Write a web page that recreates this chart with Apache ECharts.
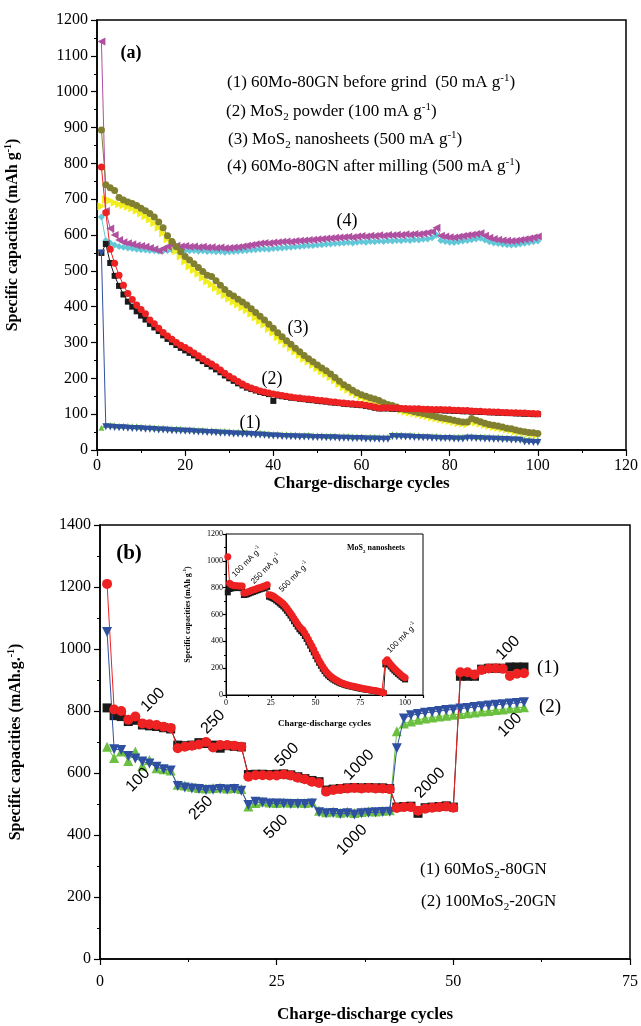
<!DOCTYPE html>
<html><head><meta charset="utf-8">
<script src="https://cdn.jsdelivr.net/npm/echarts@6/dist/echarts.min.js"></script>
<style>html,body{margin:0;padding:0;background:#fff}#c{width:641px;height:1026px}</style>
</head><body><div id="c"></div>
<script>
// ---------- Panel (a) data (cycles 1..100) ----------
const A_RED = [790,662,560,521,488,460,437,420,405,392, 380,363,352,340,328,318,309,300,292,286, 279,271,263,255,247,240,232,223,214,206, 199,191,184,178,173,169,165,162,159,156, 154,152,150,148,146,145,143,142,141,139, 138,137,135,134,132,131,130,129,128,127, 125,123,120,117,118,118,117,117,116,116, 115,115,115,114,114,113,113,113,112,112, 111,111,110,110,109,108,108,107,107,106, 106,105,105,104,104,103,103,102,102,101];
const A_BLACK = [550,575,522,486,458,434,414,400,387,375, 364,352,342,332,320,310,301,293,285,278, 271,264,256,248,240,233,225,217,208,200, 193,186,180,174,170,166,162,159,156,137, 152,150,148,146,145,143,142,140,139,137, 136,135,133,132,131,129,128,127,126,125, 123,121,118,116,116,116,115,115,114,114, 113,113,113,112,112,111,111,111,110,110, 109,109,108,108,107,107,106,106,105,105, 104,104,103,103,102,102,101,101,100,100];
const A_BLUE = [550,65,64,63,62,62,61,60,60,59, 58,58,57,56,56,55,54,54,53,52, 52,51,50,50,49,49,48,47,47,46, 45,45,44,44,43,42,42,41,40,39, 39,38,38,37,37,36,36,36,35,35, 35,34,34,34,33,33,33,32,32,32, 31,31,31,30,30,30,38,37,37,36, 36,35,35,34,34,33,33,32,32,32, 31,31,31,33,33,32,32,31,31,30, 30,29,29,28,28,27,22,22,21,21];
const A_GREEN = [62,70,70,69,68,68,67,66,66,65, 64,64,63,62,62,61,60,60,59,58, 58,57,56,56,55,55,54,53,53,52, 51,51,50,50,49,48,48,47,46,45, 45,44,44,43,43,42,42,42,41,41, 41,40,40,40,39,39,39,38,38,38, 37,37,37,36,36,36,44,43,43,42, 42,41,41,40,40,39,39,38,38,38, 37,37,37,39,39,38,38,37,37,36, 36,35,35,34,34,33,30,30,29,29];
const A_OLIVE = [893,740,732,724,705,698,692,688,682,675, 668,660,650,636,620,598,582,567,553,540, 530,520,509,498,488,484,472,460,448,437, 430,421,413,405,394,384,373,363,351,340, 327,316,305,295,284,274,264,255,246,237, 229,221,212,202,192,182,175,167,160,154, 150,146,142,138,132,127,124,120,116,112, 110,107,104,102,99,96,93,90,88,86, 83,80,78,78,88,83,79,75,71,69, 67,64,61,59,56,53,51,49,48,46];
const A_YELLOW = [680,700,696,690,686,683,679,675,668,660, 652,643,633,620,605,588,570,555,540,526, 512,502,492,481,470,462,452,442,432,422, 414,406,398,390,380,370,360,350,338,327, 315,305,295,285,275,265,255,246,237,228, 220,212,203,194,184,175,168,160,154,148, 144,140,136,132,127,122,118,115,111,107, 105,102,99,96,94,91,88,85,83,81, 78,75,73,72,80,77,73,70,67,64, 62,59,57,55,52,50,48,46,44,43];
const A_MAGENTA = [1140,667,618,600,586,580,577,574,571,569, 567,564,560,556,562,568,572,570,568,569, 567,568,566,567,565,566,564,565,563,564, 565,566,568,570,572,574,576,578,577,579, 580,581,582,581,583,584,585,586,587,588, 589,590,591,592,593,594,595,594,596,597, 596,598,597,599,598,600,599,601,600,602, 601,603,602,604,606,609,620,598,596,594, 593,595,597,599,601,603,605,598,592,589, 587,585,584,583,584,586,588,590,593,596];
const A_CYAN = [650,585,578,572,568,566,564,562,560,559, 558,557,556,555,556,557,558,557,556,557, 556,557,555,556,554,555,553,554,552,553, 554,555,556,557,558,559,560,561,560,562, 563,564,565,566,567,568,569,570,571,572, 573,574,575,576,577,578,579,578,580,581, 580,582,581,583,582,584,583,585,584,586, 585,587,586,588,589,592,600,585,582,580, 579,581,583,585,587,589,591,586,581,578, 576,574,573,572,573,575,577,579,581,583];

// ---------- Panel (b) data (cycles 1..60) ----------
const B_RED = [1210,805,800,772,782,760,757,755,749,745, 680,685,688,692,700,682,690,690,688,685, 588,593,593,592,592,595,592,585,580,572, 568,540,545,548,550,552,550,552,550,550, 548,487,490,490,478,485,488,490,492,488, 925,925,918,932,937,938,936,913,920,922];
const B_BLACK = [810,785,782,766,770,755,752,750,746,742, 690,688,690,698,695,690,680,688,686,684, 595,596,596,595,596,597,594,588,582,576, 572,545,548,550,552,553,552,553,552,552, 550,490,492,493,470,488,490,492,494,490, 912,912,912,935,938,938,938,942,942,942];
const B_BLUE = [1055,677,674,655,647,637,631,620,612,608, 558,553,550,548,545,546,548,547,548,543, 497,507,505,502,502,501,500,500,500,502, 473,470,471,468,470,466,470,472,473,474, 475,680,776,786,790,794,797,800,803,805, 808,810,813,815,818,820,822,824,826,828];
const B_GREEN = [685,648,669,639,669,623,642,615,612,608, 562,560,556,552,550,552,553,550,552,548, 492,503,508,505,503,506,504,505,503,506, 478,473,476,472,475,471,474,477,476,478, 480,735,760,766,772,776,779,782,785,788, 790,793,795,798,800,803,805,808,810,812];

// ---------- Inset data (cycles 1..100) ----------
const I_RED = [1031,832,822,818,815,815,812,813,812,760, 762,768,772,778,782,787,792,797,800,805, 810,815,822,748,745,740,732,722,712,702, 692,680,665,648,630,612,592,570,550,530, 510,495,484,462,440,415,390,365,340,310, 285,258,235,212,192,174,158,146,135,125, 116,108,100,94,88,83,79,75,71,68, 65,62,59,56,53,50,47,45,42,40, 38,35,33,31,28,25,20,16,248,263, 245,228,212,198,185,172,160,148,138,128];
const I_BLACK = [765,790,795,797,797,798,798,797,796,745, 748,752,758,763,768,773,778,783,788,792, 796,800,806,733,728,722,715,705,695,683, 672,660,645,628,610,592,572,550,530,510, 490,475,462,440,418,392,368,342,318,290, 265,240,218,196,178,160,146,134,124,115, 107,100,93,87,82,77,73,69,66,63, 60,57,54,51,48,46,43,41,39,37, 35,32,30,28,25,22,18,14,228,245, 228,212,196,183,170,158,147,136,126,116];

const F = 'Liberation Serif';
const S = 'Liberation Sans';

function xy(arr){ return arr.map((v,i)=>[i+1, v]); }

function axis(gi, min, max, interval, fs, margin, extra){
  return Object.assign({
    type:'value', gridIndex:gi, min, max, interval,
    axisLine:{show:true, onZero:false, lineStyle:{color:'#000', width:1.5}},
    axisTick:{show:true, length:fs>10?6:3, lineStyle:{color:'#000', width:1.2}},
    minorTick:{show:true, splitNumber:2, length:fs>10?3:2, lineStyle:{color:'#000', width:1}},
    splitLine:{show:false}, minorSplitLine:{show:false},
    axisLabel:{color:'#000', fontFamily:F, fontSize:fs, margin, formatter:v=>String(v)}
  }, extra||{});
}

function nameStyle(fs, gap){
  return {
    nameLocation:'middle', nameGap:gap,
    nameTextStyle:{
      color:'#000', fontFamily:F, fontWeight:'bold', fontSize:fs,
      rich:{
        b:{fontFamily:F, fontWeight:'bold', fontSize:fs, color:'#000', lineHeight:fs+4, verticalAlign:'middle'},
        sup:{fontFamily:F, fontWeight:'bold', fontSize:Math.round(fs*0.62), color:'#000', lineHeight:Math.round(fs*0.62)+1, verticalAlign:'top'}
      }
    }
  };
}

function ser(data, gi, color, symbol, size, rot, z){
  return {type:'line', xAxisIndex:gi, yAxisIndex:gi, data:xy(data), symbol, symbolSize:size,
    symbolRotate:rot||0, showAllSymbol:true, animation:false, z:z||2,
    lineStyle:{color, width:1}, itemStyle:{color, borderWidth:0}, emphasis:{disabled:true}};
}

function richTxt(x, y, text, fs, opt){
  opt = opt||{};
  const fam = opt.fam||F, fw = opt.fw||'normal';
  const r = {
    n:{fontFamily:fam, fontWeight:fw, fontSize:fs, fill:'#000', color:'#000', lineHeight:fs+4, verticalAlign:'middle'},
    sub:{fontFamily:fam, fontWeight:fw, fontSize:Math.round(fs*0.62), fill:'#000', color:'#000', lineHeight:Math.round(fs*0.62)+1, verticalAlign:'bottom'},
    sup:{fontFamily:fam, fontWeight:fw, fontSize:Math.round(fs*0.62), fill:'#000', color:'#000', lineHeight:Math.round(fs*0.62)+1, verticalAlign:'top'}
  };
  return {type:'text', x, y, rotation:opt.rot||0, z:100,
    style:{text, rich:r, fill:'#000', font:fw+' '+fs+'px '+fam,
      align:opt.align||'left', textAlign:opt.align||'left',
      verticalAlign:'middle', textVerticalAlign:'middle'}};
}
function txt(x, y, text, fs, opt){
  opt = opt||{};
  const fam = opt.fam||F, fw = opt.fw||'normal';
  return {type:'text', x, y, rotation:opt.rot||0, z:100,
    style:{text, fill:'#000', font:fw+' '+fs+'px '+fam,
      align:opt.align||'center', textAlign:opt.align||'center',
      verticalAlign:'middle', textVerticalAlign:'middle'}};
}

const R45 = Math.PI/4;
const chart = echarts.init(document.getElementById('c'), null, {renderer:'canvas'});
chart.setOption({
  animation:false,
  backgroundColor:'#fff',
  grid:[
    {left:97, top:20, width:529, height:430, show:true, borderColor:'#000', borderWidth:1.5, backgroundColor:'transparent', outerBoundsMode:'none', containLabel:false},
    {left:100, top:525, width:530, height:434, show:true, borderColor:'#000', borderWidth:1.5, backgroundColor:'transparent', outerBoundsMode:'none', containLabel:false},
    {left:226, top:534, width:197, height:161, show:true, borderColor:'#000', borderWidth:1, backgroundColor:'#fff', outerBoundsMode:'none', containLabel:false, z:5}
  ],
  xAxis:[
    axis(0, 0, 120, 20, 16, 8, Object.assign({name:'{b|Charge-discharge cycles}'}, nameStyle(17, 23))),
    axis(1, 0, 75, 25, 16, 15, Object.assign({name:'{b|Charge-discharge cycles}'}, nameStyle(17, 45))),
    axis(2, 0, 110, 25, 8, 4, Object.assign({name:'{b|Charge-discharge cycles}', z:6,
      axisLine:{show:true,onZero:false,lineStyle:{color:'#000',width:1}},
      axisLabel:{color:'#000', fontFamily:F, fontSize:8, margin:4, formatter:v=> (v%25===0? String(v):'')}}, nameStyle(9, 22)))
  ],
  yAxis:[
    axis(0, 0, 1200, 100, 16, 9, Object.assign({name:'{b|Specific capacities (mAh g}{sup|-1}{b|)}'}, nameStyle(16, 74))),
    axis(1, 0, 1400, 200, 16, 9, Object.assign({name:'{b|Specific capacities (mAh.g.}{sup|-1}{b|)}'}, nameStyle(16, 74))),
    axis(2, 0, 1200, 200, 8, 3, Object.assign({name:'{b|Specific capacities (mAh g}{sup|-1}{b|)}', z:6,
      axisLine:{show:true,onZero:false,lineStyle:{color:'#000',width:1}}}, nameStyle(8, 32)))
  ],
  series:[
    ser(A_GREEN, 0, '#6cc040', 'triangle', 6, 0, 2),
    ser(A_BLUE, 0, '#2f50a0', 'triangle', 7, 180, 3),
    ser(A_CYAN, 0, '#62c8d8', 'diamond', 7, 0, 2),
    ser(A_MAGENTA, 0, '#b050a0', 'triangle', 8, 90, 3),
    ser(A_YELLOW, 0, '#f2ee1e', 'triangle', 8, -90, 2),
    ser(A_OLIVE, 0, '#808030', 'circle', 7, 0, 3),
    ser(A_BLACK, 0, '#1a1a1a', 'rect', 6, 0, 2),
    ser(A_RED, 0, '#ee2222', 'circle', 7, 0, 3),

    ser(B_GREEN, 1, '#6cc040', 'triangle', 10, 0, 2),
    ser(B_BLUE, 1, '#2f50a0', 'triangle', 10, 180, 3),
    ser(B_BLACK, 1, '#1a1a1a', 'rect', 9, 0, 2),
    ser(B_RED, 1, '#ee2222', 'circle', 10, 0, 3),

    ser(I_BLACK, 2, '#1a1a1a', 'rect', 6, 0, 6),
    ser(I_RED, 2, '#ee2222', 'circle', 7, 0, 7)
  ],
  graphic:[
    txt(131, 53, '(a)', 18, {fw:'bold'}),
    richTxt(227, 83, '{n|(1) 60Mo-80GN before grind  (50 mA g}{sup|-1}{n|)}', 17),
    richTxt(226, 112, '{n|(2) MoS}{sub|2}{n| powder (100 mA g}{sup|-1}{n|)}', 17),
    richTxt(228, 140, '{n|(3) MoS}{sub|2}{n| nanosheets (500 mA g}{sup|-1}{n|)}', 17),
    richTxt(227, 167, '{n|(4) 60Mo-80GN after milling (500 mA g}{sup|-1}{n|)}', 17),
    txt(347, 221, '(4)', 18),
    txt(298, 328, '(3)', 18),
    txt(272, 379, '(2)', 18),
    txt(250, 423, '(1)', 18),

    txt(129, 554, '(b)', 21, {fw:'bold'}),
    txt(153, 700, '100', 16, {fam:S, rot:R45}),
    txt(213, 722, '250', 16, {fam:S, rot:R45}),
    txt(287, 755, '500', 16, {fam:S, rot:R45}),
    txt(359, 765, '1000', 16, {fam:S, rot:R45}),
    txt(430, 783, '2000', 16, {fam:S, rot:R45}),
    txt(508, 648, '100', 16, {fam:S, rot:R45}),
    txt(138, 780, '100', 16, {fam:S, rot:R45}),
    txt(201, 808, '250', 16, {fam:S, rot:R45}),
    txt(276, 827, '500', 16, {fam:S, rot:R45}),
    txt(352, 840, '1000', 16, {fam:S, rot:R45}),
    txt(510, 725, '100', 16, {fam:S, rot:R45}),
    txt(548, 668, '(1)', 19),
    txt(550, 707, '(2)', 19),
    richTxt(420, 870, '{n|(1) 60MoS}{sub|2}{n|-80GN}', 17),
    richTxt(421, 902, '{n|(2) 100MoS}{sub|2}{n|-20GN}', 17),

    richTxt(347, 548, '{n|MoS}{sub|2}{n| nanosheets}', 8, {fw:'bold'}),
    richTxt(247, 562, '{n|100 mA g}{sup|-1}', 8, {fam:S, rot:R45, align:'center'}),
    richTxt(266, 569, '{n|250 mA g}{sup|-1}', 8, {fam:S, rot:R45, align:'center'}),
    richTxt(294, 577, '{n|500 mA g}{sup|-1}', 8, {fam:S, rot:R45, align:'center'}),
    richTxt(402, 638, '{n|100 mA g}{sup|-1}', 8, {fam:S, rot:R45, align:'center'})
  ]
});
</script></body></html>
